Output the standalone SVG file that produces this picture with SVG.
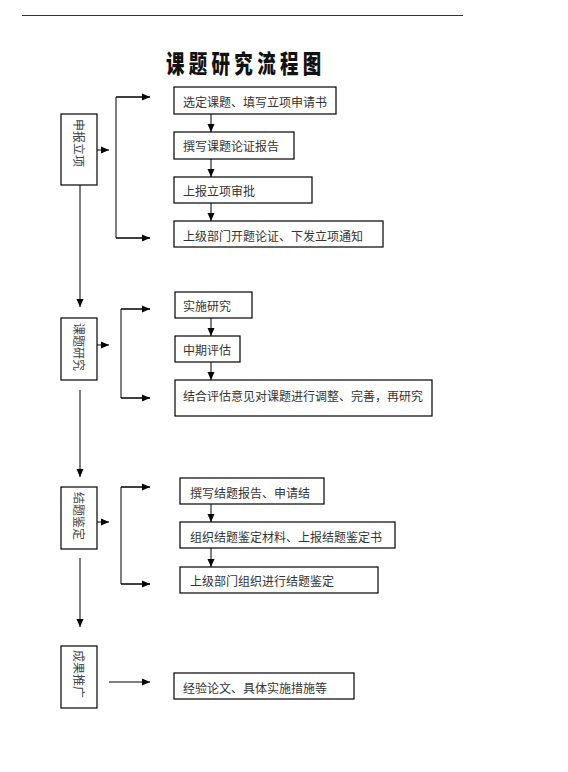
<svg xmlns="http://www.w3.org/2000/svg" width="568" height="772" viewBox="0 0 568 772">
<style>
.box{fill:#fff;stroke:#000;stroke-width:1.2}
.t{font-family:"Noto Sans CJK SC","Noto Sans",sans-serif;font-size:12px;fill:#333;dominant-baseline:central}
.v{font-family:"Noto Sans CJK SC","Noto Sans",sans-serif;font-size:12px;fill:#444;dominant-baseline:central}
.ln{fill:none;stroke:#000;stroke-width:1}
</style>
<defs>
<marker id="ah" markerWidth="8" markerHeight="8" refX="8" refY="4" orient="auto" markerUnits="userSpaceOnUse">
<path d="M0,0.5 L8,4 L0,7.5 Z" fill="#000"/>
</marker>
</defs>
<rect width="568" height="772" fill="#fff"/>
<line x1="22" y1="15.5" x2="463" y2="15.5" stroke="#333" stroke-width="1"/>
<text transform="translate(166,73) scale(0.74,1)" x="0" y="0" letter-spacing="5.8" font-family="'Noto Sans CJK SC',sans-serif" font-size="25" font-weight="900" fill="#111">课题研究流程图</text>

<g id="n-shenbao"><rect class="box" x="61" y="114" width="36" height="71"/><text class="v" x="79" y="119" transform="rotate(90 79 119)">申报立项</text></g>
<g id="n-s1"><rect class="box" x="174" y="87" width="162" height="27"/><text class="t" x="183" y="101">选定课题、填写立项申请书</text></g>
<g id="n-s2"><rect class="box" x="174" y="132" width="120" height="27"/><text class="t" x="183" y="145">撰写课题论证报告</text></g>
<g id="n-s3"><rect class="box" x="174" y="177" width="138" height="26"/><text class="t" x="183" y="190">上报立项审批</text></g>
<g id="n-s4"><rect class="box" x="174" y="221" width="209" height="26"/><text class="t" x="183" y="235">上级部门开题论证、下发立项通知</text></g>

<g id="n-yanjiu"><rect class="box" x="61" y="318" width="36" height="62"/><text class="v" x="79" y="323" transform="rotate(90 79 323)">课题研究</text></g>
<g id="n-r1"><rect class="box" x="175" y="292" width="77" height="26"/><text class="t" x="183" y="305">实施研究</text></g>
<g id="n-r2"><rect class="box" x="175" y="336" width="65" height="26"/><text class="t" x="183" y="349">中期评估</text></g>
<g id="n-r3"><rect class="box" x="175" y="380" width="257" height="36"/><text class="t" x="183" y="395">结合评估意见对课题进行调整、完善，再研究</text></g>

<g id="n-jianding"><rect class="box" x="61" y="487" width="36" height="62"/><text class="v" x="79" y="492" transform="rotate(90 79 492)">结题鉴定</text></g>
<g id="n-j1"><rect class="box" x="180" y="478" width="144" height="26"/><text class="t" x="190" y="492">撰写结题报告、申请结</text></g>
<g id="n-j2"><rect class="box" x="180" y="522" width="215" height="26"/><text class="t" x="190" y="536">组织结题鉴定材料、上报结题鉴定书</text></g>
<g id="n-j3"><rect class="box" x="180" y="567" width="198" height="26"/><text class="t" x="190" y="580">上级部门组织进行结题鉴定</text></g>

<g id="n-tuiguang"><rect class="box" x="61" y="646" width="36" height="62"/><text class="v" x="79" y="650" transform="rotate(90 79 650)">成果推广</text></g>
<g id="n-g1"><rect class="box" x="174" y="673" width="180" height="26"/><text class="t" x="183" y="687">经验论文、具体实施措施等</text></g>

<g id="connectors">
<line class="ln" x1="97" y1="150" x2="109" y2="150" marker-end="url(#ah)"/>
<path class="ln" d="M150,97 H116 V238 H150" />
<line class="ln" x1="116" y1="97" x2="150" y2="97" marker-end="url(#ah)"/>
<line class="ln" x1="116" y1="238" x2="150" y2="238" marker-end="url(#ah)"/>
<line class="ln" x1="211" y1="114" x2="211" y2="132" marker-end="url(#ah)"/>
<line class="ln" x1="211" y1="159" x2="211" y2="177" marker-end="url(#ah)"/>
<line class="ln" x1="211" y1="203" x2="211" y2="221" marker-end="url(#ah)"/>
<line class="ln" x1="80" y1="185" x2="80" y2="307" marker-end="url(#ah)"/>

<line class="ln" x1="97" y1="345" x2="109" y2="345" marker-end="url(#ah)"/>
<path class="ln" d="M150,309 H121 V398 H150"/>
<line class="ln" x1="121" y1="309" x2="150" y2="309" marker-end="url(#ah)"/>
<line class="ln" x1="121" y1="398" x2="150" y2="398" marker-end="url(#ah)"/>
<line class="ln" x1="211" y1="318" x2="211" y2="336" marker-end="url(#ah)"/>
<line class="ln" x1="211" y1="362" x2="211" y2="380" marker-end="url(#ah)"/>
<line class="ln" x1="80" y1="390" x2="80" y2="477" marker-end="url(#ah)"/>

<line class="ln" x1="97" y1="522" x2="109" y2="522" marker-end="url(#ah)"/>
<path class="ln" d="M150,487 H121 V584 H150"/>
<line class="ln" x1="121" y1="487" x2="150" y2="487" marker-end="url(#ah)"/>
<line class="ln" x1="121" y1="584" x2="150" y2="584" marker-end="url(#ah)"/>
<line class="ln" x1="211" y1="504" x2="211" y2="522" marker-end="url(#ah)"/>
<line class="ln" x1="211" y1="548" x2="211" y2="567" marker-end="url(#ah)"/>
<line class="ln" x1="80" y1="558" x2="80" y2="627" marker-end="url(#ah)"/>

<line class="ln" x1="109" y1="682" x2="150" y2="682" marker-end="url(#ah)"/>
</g>
</svg>
